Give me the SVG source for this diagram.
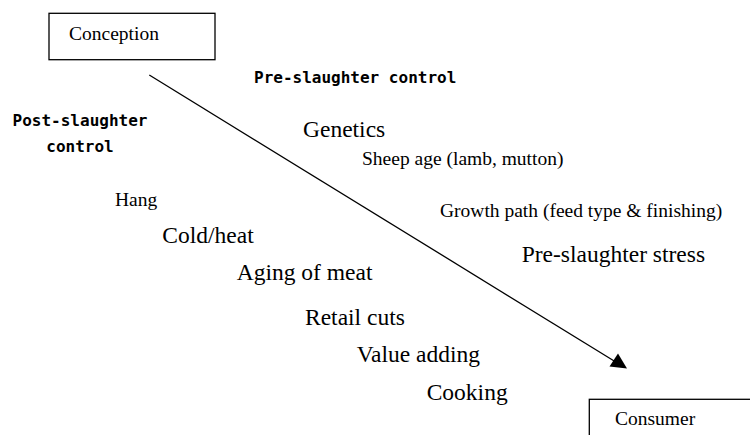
<svg xmlns="http://www.w3.org/2000/svg" width="750" height="435" viewBox="0 0 750 435">
<style>
.box{fill:#fff;stroke:#000;stroke-width:1.3}
.s{font-family:"Liberation Serif","Times New Roman",serif;font-size:19.5px;fill:#000}
.l{font-family:"Liberation Serif","Times New Roman",serif;font-size:23.5px;fill:#000}
.m{font-family:"DejaVu Sans Mono",monospace;font-weight:bold;font-size:16px;fill:#000}
.c{stroke:#000;stroke-width:1.3;fill:none}
</style>
<rect width="750" height="435" fill="#fff"/>
<g id="conception">
<rect class="box" x="49" y="13.3" width="166" height="46.4"/>
<text class="s" x="69" y="40">Conception</text>
</g>
<g id="consumer">
<rect class="box" x="589.3" y="399.3" width="200" height="60"/>
<text class="s" x="615" y="425">Consumer</text>
</g>
<g id="connectors">
<line class="c" x1="149.3" y1="75" x2="615" y2="361.5"/>
<polygon points="627,368.5 609.5,366.5 618,353.5" fill="#000"/>
</g>
<g id="labels">
<text class="m" x="254" y="83">Pre-slaughter control</text>
<text class="m" x="80" y="126" text-anchor="middle">Post-slaughter</text>
<text class="m" x="80" y="152" text-anchor="middle">control</text>
<text class="l" x="303" y="137">Genetics</text>
<text class="s" x="362" y="165">Sheep age (lamb, mutton)</text>
<text class="s" x="440" y="216.7">Growth path (feed type &amp; finishing)</text>
<text class="l" x="521.7" y="261.7">Pre-slaughter stress</text>
<text class="s" x="115" y="205.7">Hang</text>
<text class="l" x="162.3" y="242.7">Cold/heat</text>
<text class="l" x="236.7" y="280">Aging of meat</text>
<text class="l" x="305" y="325">Retail cuts</text>
<text class="l" x="356.7" y="361.7">Value adding</text>
<text class="l" x="426.7" y="400">Cooking</text>
</g>
</svg>
